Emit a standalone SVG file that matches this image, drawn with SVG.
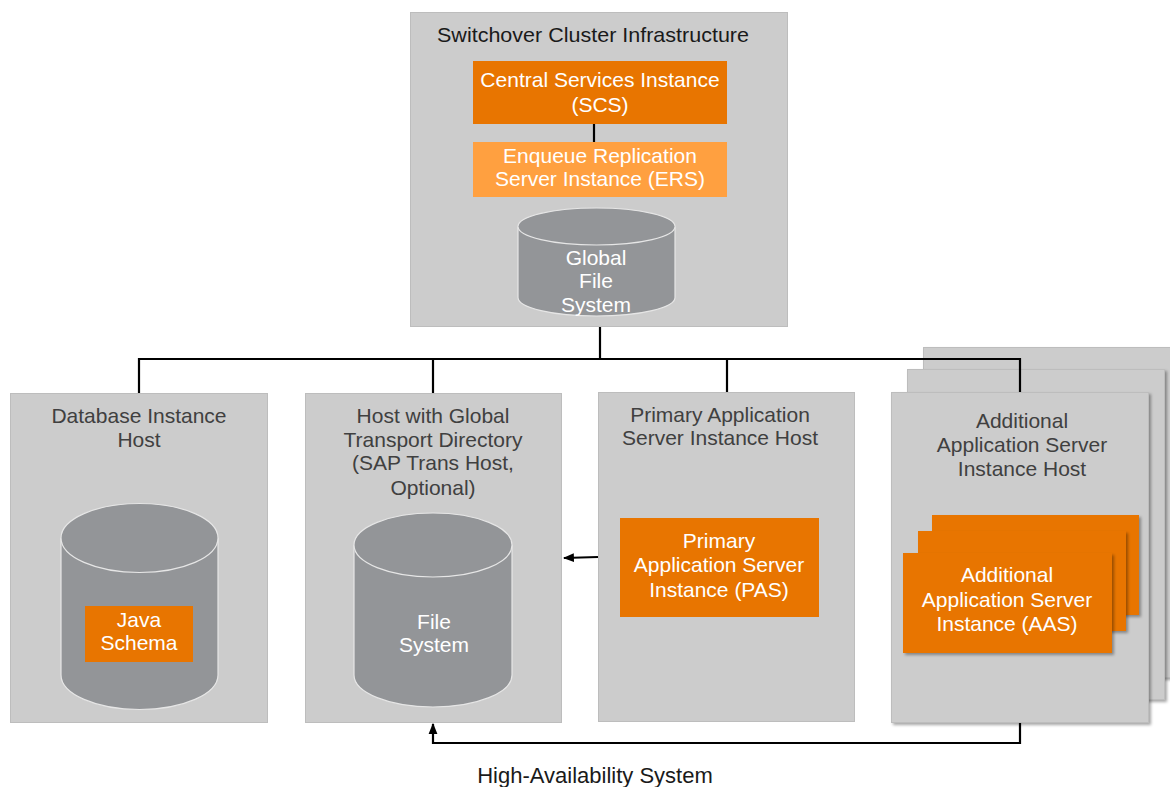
<svg xmlns="http://www.w3.org/2000/svg" width="1170" height="787" viewBox="0 0 1170 787">
  <defs>
    <style>
      .host { fill: #cccccc; stroke: #bdbdbd; stroke-width: 1; }
      .orange { fill: #e87500; }
      .lightorange { fill: #ffa040; }
      .drum { fill: #939598; stroke: #e6e6e6; stroke-width: 1.2; }
      .wire { fill: none; stroke: #000000; stroke-width: 2.2; }
      text { font-family: "Liberation Sans", Arial, sans-serif; font-size: 21px; text-anchor: middle; }
      .title { fill: #404040; }
      .head { fill: #1a1a1a; }
      .inv { fill: #ffffff; }
    </style>
    <filter id="shadow" x="-10%" y="-10%" width="130%" height="130%">
      <feDropShadow dx="2" dy="2" stdDeviation="1.5" flood-color="#000000" flood-opacity="0.35"/>
    </filter>
    <marker id="arrow" viewBox="0 0 10 10" refX="9" refY="5" markerWidth="5" markerHeight="5" orient="auto" markerUnits="strokeWidth">
      <path d="M0,1 L10,5 L0,9 Z" fill="#000000"/>
    </marker>
  </defs>

  <!-- Switchover cluster infrastructure -->
  <g id="switchover-cluster">
    <rect class="host" x="410.5" y="12.5" width="377" height="314"/>
    <text class="head" x="593" y="42" textLength="312" lengthAdjust="spacingAndGlyphs">Switchover Cluster Infrastructure</text>
  </g>
  <g id="scs">
    <rect class="orange" x="473" y="61" width="254" height="63"/>
    <text class="inv" x="600" y="87">Central Services Instance</text>
    <text class="inv" x="600" y="112">(SCS)</text>
  </g>
  <g id="ers">
    <rect class="lightorange" x="473" y="142" width="254" height="55"/>
    <text class="inv" x="600" y="163">Enqueue Replication</text>
    <text class="inv" x="600" y="186">Server Instance (ERS)</text>
  </g>
  <g id="global-file-system">
    <path class="drum" d="M518,226.5 A78.5,18.5 0 0 1 675,226.5 L675,297.5 A78.5,18.5 0 0 1 518,297.5 Z"/>
    <path class="drum" d="M518,226.5 A78.5,18.5 0 0 0 675,226.5"/>
    <text class="inv" x="596" y="265">Global</text>
    <text class="inv" x="596" y="288">File</text>
    <text class="inv" x="596" y="312">System</text>
  </g>

  <!-- Database instance host -->
  <g id="database-host">
    <rect class="host" x="10.5" y="393.5" width="257" height="329"/>
    <text class="title" x="139" y="423">Database Instance</text>
    <text class="title" x="139" y="447">Host</text>
    <path class="drum" d="M61,538 A78.5,34.5 0 0 1 218,538 L218,675 A78.5,34.5 0 0 1 61,675 Z"/>
    <path class="drum" d="M61,538 A78.5,34.5 0 0 0 218,538"/>
  </g>
  <g id="java-schema">
    <rect class="orange" x="85" y="606" width="108" height="56"/>
    <text class="inv" x="139" y="627">Java</text>
    <text class="inv" x="139" y="650">Schema</text>
  </g>

  <!-- Host with global transport directory -->
  <g id="trans-host">
    <rect class="host" x="305.5" y="393.5" width="256" height="329"/>
    <text class="title" x="433" y="423">Host with Global</text>
    <text class="title" x="433" y="447">Transport Directory</text>
    <text class="title" x="433" y="470">(SAP Trans Host,</text>
    <text class="title" x="433" y="495">Optional)</text>
    <path class="drum" d="M354,545 A79,32 0 0 1 512,545 L512,675 A79,32 0 0 1 354,675 Z"/>
    <path class="drum" d="M354,545 A79,32 0 0 0 512,545"/>
    <text class="inv" x="434" y="629">File</text>
    <text class="inv" x="434" y="652">System</text>
  </g>

  <!-- Primary application server instance host -->
  <g id="pas-host">
    <rect class="host" x="598.5" y="392.5" width="256" height="329"/>
    <text class="title" x="720" y="422">Primary Application</text>
    <text class="title" x="720" y="445">Server Instance Host</text>
  </g>
  <g id="pas">
    <rect class="orange" x="620" y="518" width="199" height="99"/>
    <text class="inv" x="719" y="548">Primary</text>
    <text class="inv" x="719" y="572">Application Server</text>
    <text class="inv" x="719" y="597">Instance (PAS)</text>
  </g>

  <!-- Additional application server instance hosts (stacked) -->
  <g id="aas-host">
    <rect class="host" x="923.5" y="347.5" width="257" height="330" filter="url(#shadow)"/>
    <rect class="host" x="907.5" y="369.5" width="257" height="330" filter="url(#shadow)"/>
    <rect class="host" x="891.5" y="392.5" width="257" height="330" filter="url(#shadow)"/>
    <text class="title" x="1022" y="428">Additional</text>
    <text class="title" x="1022" y="452">Application Server</text>
    <text class="title" x="1022" y="476">Instance Host</text>
  </g>
  <g id="aas">
    <rect class="orange" x="932" y="515" width="207" height="100" filter="url(#shadow)"/>
    <rect class="orange" x="918" y="531" width="208" height="100" filter="url(#shadow)"/>
    <rect class="orange" x="903" y="553" width="209" height="100" filter="url(#shadow)"/>
    <text class="inv" x="1007" y="582">Additional</text>
    <text class="inv" x="1007" y="607">Application Server</text>
    <text class="inv" x="1007" y="631">Instance (AAS)</text>
  </g>

  <!-- Connectors -->
  <g id="connectors">
    <path class="wire" d="M594,124 L594,142"/>
    <path class="wire" d="M600,327 L600,359"/>
    <path class="wire" d="M139,393 L139,359 L1020,359 L1020,392"/>
    <path class="wire" d="M433,359 L433,393"/>
    <path class="wire" d="M727,359 L727,392"/>
    <path class="wire" d="M598,557 L564,558" marker-end="url(#arrow)"/>
    <path class="wire" d="M1020,723 L1020,743 L433,743 L433,724" marker-end="url(#arrow)"/>
  </g>

  <text class="head" x="595" y="783" style="font-size:22px">High-Availability System</text>
</svg>
